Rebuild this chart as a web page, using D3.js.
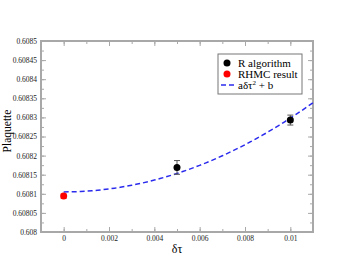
<!DOCTYPE html>
<html><head><meta charset="utf-8">
<script src="https://cdn.jsdelivr.net/npm/d3@7"></script>
<style>body{margin:0;background:#fff}svg{display:block}</style>
</head><body>
<script>
const xTicks = [0, 0.002, 0.004, 0.006, 0.008, 0.01];
const xTickLabels = ["0", "0.002", "0.004", "0.006", "0.008", "0.01"];
const yTicks = [0.608, 0.60805, 0.6081, 0.60815, 0.6082, 0.60825, 0.6083, 0.60835, 0.6084, 0.60845, 0.6085];
const yTickLabels = ["0.608", "0.60805", "0.6081", "0.60815", "0.6082", "0.60825", "0.6083", "0.60835", "0.6084", "0.60845", "0.6085"];
const rAlgX = [0.005, 0.01];
const rAlgY = [0.608169, 0.608293];
const rAlgErr = [0.000018, 0.000013];
const rhmcX = [0];
const rhmcY = [0.608094];
const rhmcErr = [0.000006];
const fitA = 1.93;
const fitB = 0.608105;

const W = 353, H = 273;
const L = 41, R = 313, T = 41, B = 232;
const svg = d3.select("body").append("svg").attr("width", W).attr("height", H);
const x = d3.scaleLinear().domain([-0.001, 0.011]).range([L, R]);
const y = d3.scaleLinear().domain([0.608, 0.6085]).range([B, T]);
const axisCol = "#a8a8a8";
const font = "'Liberation Serif', 'Times New Roman', serif";

const xMinor = d3.range(-0.001, 0.0111, 0.001);
const yMinor = d3.range(0, 21).map(i => 0.608 + i * 0.000025);

function styleAxis(g) {
  g.select(".domain").remove();
  g.selectAll("line").attr("stroke", axisCol).attr("stroke-width", 1);
  g.selectAll("text").attr("font-family", font).attr("font-size", "7.5px").attr("fill", "#222");
}
// minor ticks
svg.append("g").attr("transform", `translate(0,${B})`).call(d3.axisBottom(x).tickValues(xMinor).tickSize(-3).tickFormat("")).call(styleAxis);
svg.append("g").attr("transform", `translate(0,${T})`).call(d3.axisTop(x).tickValues(xMinor).tickSize(-3).tickFormat("")).call(styleAxis);
svg.append("g").attr("transform", `translate(${L},0)`).call(d3.axisLeft(y).tickValues(yMinor).tickSize(-3).tickFormat("")).call(styleAxis);
svg.append("g").attr("transform", `translate(${R},0)`).call(d3.axisRight(y).tickValues(yMinor).tickSize(-3).tickFormat("")).call(styleAxis);
// major ticks
svg.append("g").attr("transform", `translate(0,${B})`).call(d3.axisBottom(x).tickValues(xTicks).tickSize(-5).tickPadding(4).tickFormat((d, i) => xTickLabels[i])).call(styleAxis);
svg.append("g").attr("transform", `translate(0,${T})`).call(d3.axisTop(x).tickValues(xTicks).tickSize(-5).tickFormat("")).call(styleAxis);
svg.append("g").attr("transform", `translate(${L},0)`).call(d3.axisLeft(y).tickValues(yTicks).tickSize(-5).tickPadding(4).tickFormat((d, i) => yTickLabels[i])).call(styleAxis);
svg.append("g").attr("transform", `translate(${R},0)`).call(d3.axisRight(y).tickValues(yTicks).tickSize(-5).tickFormat("")).call(styleAxis);

svg.append("rect").attr("x", L).attr("y", T).attr("width", R - L).attr("height", B - T)
  .attr("fill", "none").attr("stroke", axisCol).attr("stroke-width", 2);

// fit line
const line = d3.line().x(d => x(d)).y(d => y(fitA * d * d + fitB));
const fitFine = d3.range(0, 0.01101, 0.00025);
svg.append("path").datum(fitFine).attr("d", line).attr("fill", "none")
  .attr("stroke", "#2b2bee").attr("stroke-width", 1.5).attr("stroke-dasharray", "5,3");

function errBars(xs, ys, es, col) {
  xs.forEach((xv, i) => {
    const g = svg.append("g").attr("stroke", col).attr("stroke-width", 1);
    g.append("line").attr("x1", x(xv)).attr("x2", x(xv)).attr("y1", y(ys[i] - es[i])).attr("y2", y(ys[i] + es[i]));
    [ys[i] - es[i], ys[i] + es[i]].forEach(v => g.append("line").attr("x1", x(xv) - 3).attr("x2", x(xv) + 3).attr("y1", y(v)).attr("y2", y(v)));
  });
}
errBars(rAlgX, rAlgY, rAlgErr, "#555");
errBars(rhmcX, rhmcY, rhmcErr, "#f66");
svg.selectAll(".ra").data(rAlgX).enter().append("circle").attr("cx", d => x(d)).attr("cy", (d, i) => y(rAlgY[i])).attr("r", 3.5).attr("fill", "#000");
svg.selectAll(".rh").data(rhmcX).enter().append("circle").attr("cx", d => x(d)).attr("cy", (d, i) => y(rhmcY[i])).attr("r", 3.5).attr("fill", "#f00");

// axis labels
svg.append("text").attr("x", 177).attr("y", 253).attr("text-anchor", "middle").attr("font-family", font).attr("font-size", "12px").text("δτ");
svg.append("text").attr("transform", "translate(11,131) rotate(-90)").attr("text-anchor", "middle").attr("font-family", font).attr("font-size", "11.5px").text("Plaquette");

// legend
const lg = svg.append("g");
lg.append("rect").attr("x", 218).attr("y", 54).attr("width", 84).attr("height", 40).attr("fill", "#fff").attr("stroke", "#777").attr("stroke-width", 1);
lg.append("circle").attr("cx", 227).attr("cy", 63).attr("r", 3.5).attr("fill", "#000");
lg.append("circle").attr("cx", 227).attr("cy", 74).attr("r", 3.5).attr("fill", "#f00");
lg.append("line").attr("x1", 221).attr("x2", 234).attr("y1", 85).attr("y2", 85).attr("stroke", "#2b2bee").attr("stroke-width", 1.5).attr("stroke-dasharray", "5,3");
const tx = lg.append("g").attr("font-family", font).attr("font-size", "11px").attr("fill", "#000");
tx.append("text").attr("x", 238).attr("y", 67).text("R algorithm");
tx.append("text").attr("x", 238).attr("y", 78).text("RHMC result");
const t3 = tx.append("text").attr("x", 238).attr("y", 89);
t3.append("tspan").text("aδτ");
t3.append("tspan").attr("dy", -4).attr("font-size", "7px").text("2");
t3.append("tspan").attr("dy", 4).text(" + b");
</script>
</body></html>
